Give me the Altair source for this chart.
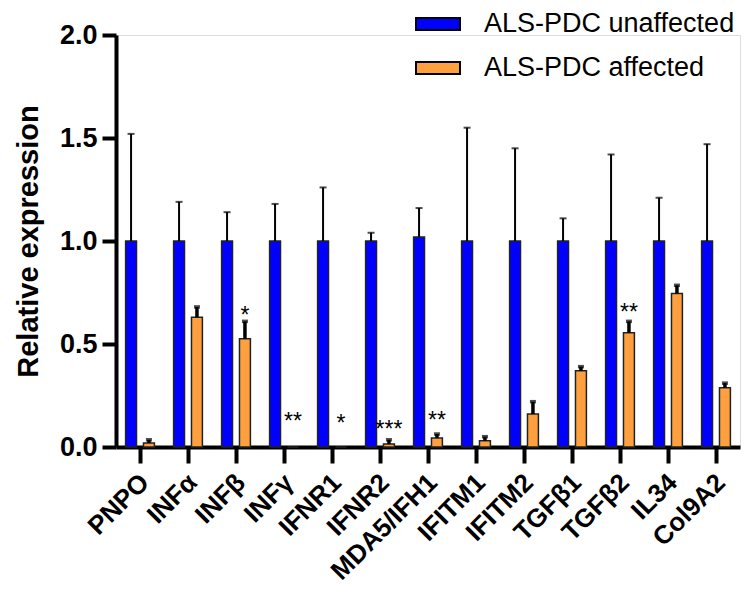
import altair as alt
import pandas as pd

genes = ["PNPO", "INFα", "INFβ", "INFγ", "IFNR1", "IFNR2", "MDA5/IFH1",
         "IFITM1", "IFITM2", "TGFβ1", "TGFβ2", "IL34", "Col9A2"]
groups = ["ALS-PDC unaffected", "ALS-PDC affected"]
unaffected = [1.0, 1.0, 1.0, 1.0, 1.0, 1.0, 1.02, 1.0, 1.0, 1.0, 1.0, 1.0, 1.0]
unaffected_top = [1.52, 1.19, 1.14, 1.18, 1.26, 1.04, 1.16, 1.55, 1.45, 1.11, 1.42, 1.21, 1.47]
affected = [0.02, 0.63, 0.525, 0.0, 0.0, 0.015, 0.044, 0.03, 0.16, 0.37, 0.555, 0.745, 0.288]
affected_top = [0.035, 0.68, 0.61, 0.0, 0.0, 0.035, 0.063, 0.05, 0.22, 0.39, 0.61, 0.785, 0.31]
sig = ["", "", "*", "**", "*", "***", "**", "", "", "", "**", "", ""]
sig_y = [0, 0, 0.60, 0.087, 0.078, 0.049, 0.092, 0, 0, 0, 0.617, 0, 0]
y_ticks = [0.0, 0.5, 1.0, 1.5, 2.0]

rows = []
for i, g in enumerate(genes):
    rows.append({"gene": g, "group": groups[0], "value": unaffected[i], "top": unaffected_top[i]})
    rows.append({"gene": g, "group": groups[1], "value": affected[i], "top": affected_top[i]})
df = pd.DataFrame(rows)
err_df = df[df["top"] > df["value"]]
stars = pd.DataFrame({"gene": genes, "group": groups[1], "sig": sig, "y": sig_y})
stars = stars[stars["sig"] != ""]

FONT = "Liberation Sans"

x_enc = alt.X("gene:N", sort=genes,
              scale=alt.Scale(paddingInner=0.4, paddingOuter=0.2),
              axis=alt.Axis(title=None, labelAngle=-45, labelAlign="right",
                            labelBaseline="middle", labelFont=FONT, labelFontSize=26,
                            labelFontWeight="bold", labelColor="black", labelPadding=15,
                            labelOffset=5,
                            tickSize=16, tickWidth=4, tickColor="black",
                            domainWidth=4, domainColor="black", labelLimit=300))
xoff = alt.XOffset("group:N", sort=groups,
                   scale=alt.Scale(domain=groups, paddingInner=0.39, paddingOuter=0))
y_scale = alt.Scale(domain=[0, 2], nice=False)
y_enc = alt.Y("value:Q", scale=y_scale,
              axis=alt.Axis(title="Relative expression", values=y_ticks, format=".1f",
                            labelFont=FONT, labelFontSize=27, labelFontWeight="bold",
                            labelColor="black", labelPadding=5,
                            titleFont=FONT, titleFontSize=29, titleFontWeight="bold",
                            titleColor="black", titlePadding=16,
                            tickSize=14, tickWidth=4, tickColor="black",
                            domainWidth=4, domainColor="black", grid=False))

color = alt.Color("group:N", sort=groups,
                  scale=alt.Scale(domain=groups, range=["#0000FF", "#FFA040"]),
                  legend=alt.Legend(title=None, orient="none", legendX=299, legendY=-34,
                                    symbolType="M-1,-0.27H1V0.27H-1Z", symbolSize=1936,
                                    symbolStrokeColor="black", symbolStrokeWidth=2,
                                    labelFont=FONT, labelFontSize=27, labelColor="black",
                                    labelOffset=23, rowPadding=8, padding=0,
                                    labelLimit=400))

bars = alt.Chart(df).mark_bar(stroke="#222222", strokeWidth=1.5).encode(
    x=x_enc, xOffset=xoff, y=y_enc, color=color)

def err_layers(grp, sw, cap):
    base = alt.Chart(err_df).transform_filter(alt.datum.group == grp)
    stem = base.mark_rule(color="black", strokeWidth=sw).encode(
        x=alt.X("gene:N", sort=genes), xOffset=alt.XOffset("group:N", sort=groups),
        y="value:Q", y2="top:Q")
    capm = base.mark_tick(color="black", thickness=sw, size=cap, orient="horizontal").encode(
        x=alt.X("gene:N", sort=genes), xOffset=alt.XOffset("group:N", sort=groups),
        y="top:Q")
    return [stem, capm]

text = alt.Chart(stars).mark_text(font=FONT, fontSize=23, color="black",
                                  baseline="alphabetic", align="center").encode(
    x=alt.X("gene:N", sort=genes), xOffset=alt.XOffset("group:N", sort=groups),
    y="y:Q", text="sig:N")

chart = alt.layer(bars, *err_layers(groups[0], 2, 7), *err_layers(groups[1], 3.5, 6), text).properties(
    width=624, height=412,
    autosize=alt.AutoSizeParams(type="none"),
    padding={"left": 108, "top": 27, "right": 8, "bottom": 140},
).configure_view(stroke=None).configure(background="white")

chart.save("out.html", embed_options={"renderer": "svg", "actions": False})
